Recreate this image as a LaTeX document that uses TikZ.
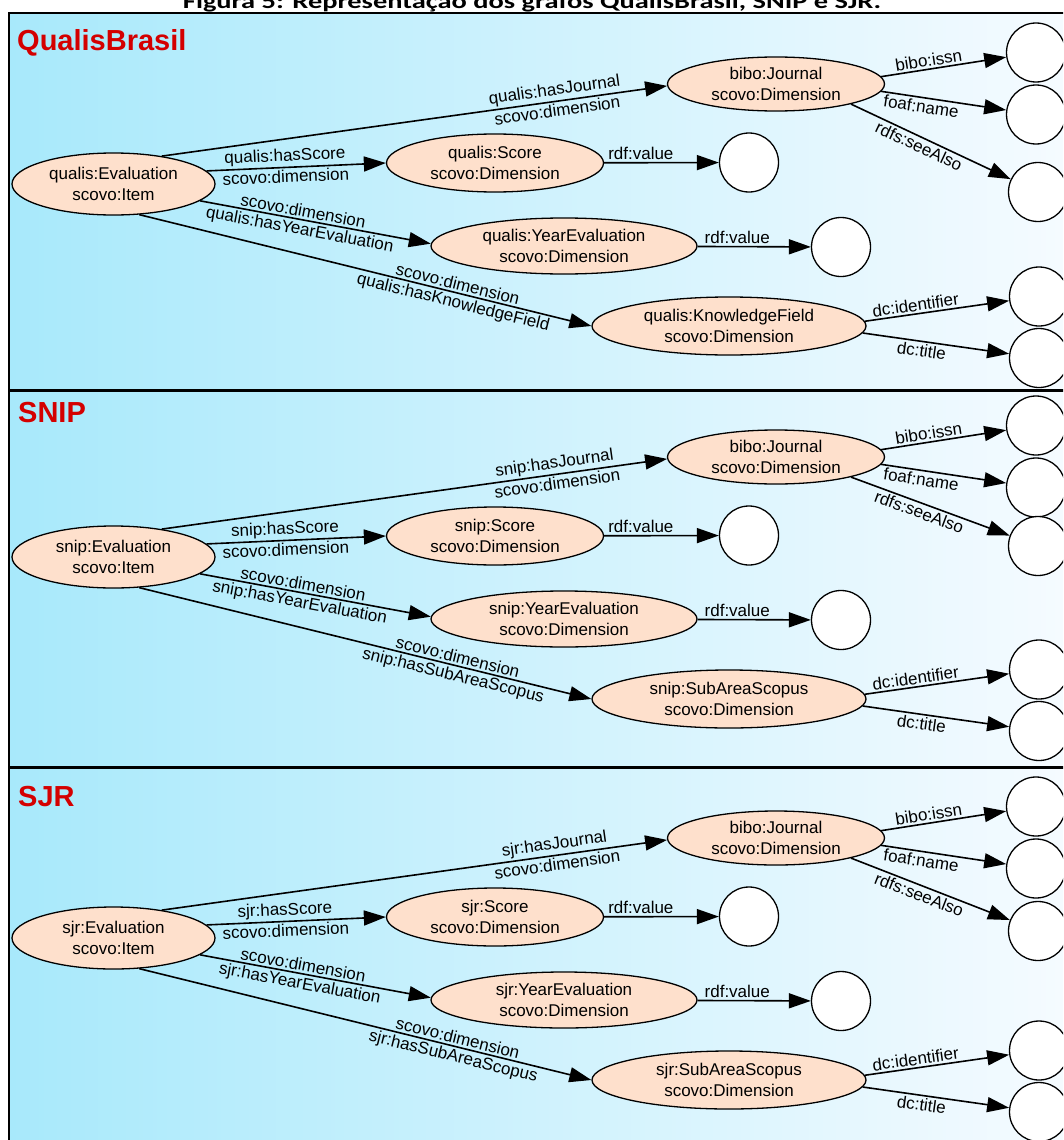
\documentclass[tikz,border=0pt]{standalone}
\usepackage{graphicx}
\usepackage{fontspec}
\setmainfont{Liberation Sans}
\newfontfamily\titlefont{Carlito}
\usetikzlibrary{arrows.meta,shapes.geometric}

\definecolor{bgl}{RGB}{168,233,251}
\definecolor{bgr}{RGB}{246,251,255}
\definecolor{peach}{RGB}{254,224,204}
\definecolor{ttlred}{RGB}{212,0,0}
\newcommand\lblfont{\fontsize{17}{21.5}\selectfont}

\tikzset{
  cls/.style={ellipse, draw=black, line width=1.3pt, fill=peach, inner sep=0pt, align=center, font=\lblfont},
  val/.style={circle, draw=black, line width=1.3pt, fill=white, minimum size=59pt, inner sep=0pt},
  rel/.style={line width=1.6pt, -{Triangle[length=22pt,width=15pt]}},
  lab/.style={font=\lblfont, sloped, inner sep=2pt},
  ptitle/.style={font=\fontsize{29}{34}\selectfont\bfseries, text=ttlred, anchor=base west, inner sep=0pt},
}

% #1 y offset, #2 suffix, #3 prefix, #4 class name, #5 property, #6 seeAlso circle y
\newcommand\drawpanel[6]{%
\begin{scope}[yshift=-#1pt]
  \node[cls, minimum width=203pt, minimum height=62pt] (e#2) at (113.5,184) {#3:Evaluation\\scovo:Item};
  \node[cls, minimum width=217pt, minimum height=54pt] (j#2) at (776,84) {bibo:Journal\\scovo:Dimension};
  \node[cls, minimum width=217pt, minimum height=58pt] (s#2) at (495,163) {#3:Score\\scovo:Dimension};
  \node[cls, minimum width=266pt, minimum height=56pt] (y#2) at (564,246) {#3:YearEvaluation\\scovo:Dimension};
  \node[cls, minimum width=274pt, minimum height=58pt] (k#2) at (729,326) {#3:#4\\scovo:Dimension};
  \node[val] (ci#2) at (1036,52.5) {};
  \node[val] (cn#2) at (1036,114.5) {};
  \node[val] (ca#2) at (1038,#6) {};
  \node[val] (cs#2) at (749,162.5) {};
  \node[val] (cy#2) at (841,247) {};
  \node[val] (cd#2) at (1039,296.5) {};
  \node[val] (ct#2) at (1039,358) {};
  \draw[rel] (e#2.30) -- node[lab, pos=0.78, above] {#3:hasJournal} node[lab, pos=0.78, below] {scovo:dimension} (j#2.181);
  \draw[rel] (e#2.8) -- node[lab, pos=0.44, above] {#3:hasScore} node[lab, pos=0.44, below] {scovo:dimension} (s#2.west);
  \draw[rel] (e#2.-11) -- node[lab, pos=0.44, above] {scovo:dimension} node[lab, pos=0.44, below] {#3:hasYearEvaluation} (y#2.179);
  \draw[rel] (e#2.-50) -- node[lab, pos=0.70, above] {scovo:dimension} node[lab, pos=0.70, below] {#3:#5} (k#2.west);
  \draw[rel] (j#2.4) -- node[lab, pos=0.39, above] {bibo:issn} (ci#2);
  \draw[rel] (j#2.-4) -- node[lab, pos=0.33, below] {foaf:name} (cn#2);
  \draw[rel] (j#2.-15) -- node[lab, pos=0.45, below] {rdfs:seeAlso} (ca#2);
  \draw[rel] (s#2) -- node[lab, pos=0.32, above] {rdf:value} (cs#2);
  \draw[rel] (y#2) -- node[lab, pos=0.35, above] {rdf:value} (cy#2);
  \draw[rel] (k#2.2) -- node[lab, pos=0.36, above] {dc:identifier} (cd#2);
  \draw[rel] (k#2.-3) -- node[lab, pos=0.41, below] {dc:title} (ct#2);
\end{scope}}

\begin{document}
\begin{tikzpicture}[x=1pt, y=-1pt]
  \useasboundingbox (0,0) rectangle (1063,1140);
  \clip (0,0) rectangle (1063,1140);
  \shade[left color=bgl, right color=bgr] (9,13) rectangle (1075,1150);
  \draw[line width=2.5pt] (9,1150) -- (9,13) -- (1075,13);
  \draw[line width=2.5pt] (9,390.5) -- (1075,390.5);
  \draw[line width=2.5pt] (9,767.5) -- (1075,767.5);
  \node[anchor=base, inner sep=0pt] (title) at (532,8.5) {\resizebox{698pt}{\height}{\titlefont\bfseries\fontsize{21}{25}\selectfont Figura 5: Representação dos grafos QualisBrasil, SNIP e SJR.}};
  \node[ptitle] (t1) at (17,50.5) {QualisBrasil};
  \node[ptitle] (t2) at (18,422.5) {SNIP};
  \node[ptitle] (t3) at (18,806) {SJR};
  \drawpanel{0}{a}{qualis}{KnowledgeField}{hasKnowledgeField}{192}
  \drawpanel{373}{b}{snip}{SubAreaScopus}{hasSubAreaScopus}{173}
  \drawpanel{754}{c}{sjr}{SubAreaScopus}{hasSubAreaScopus}{177}
\end{tikzpicture}
\end{document}
